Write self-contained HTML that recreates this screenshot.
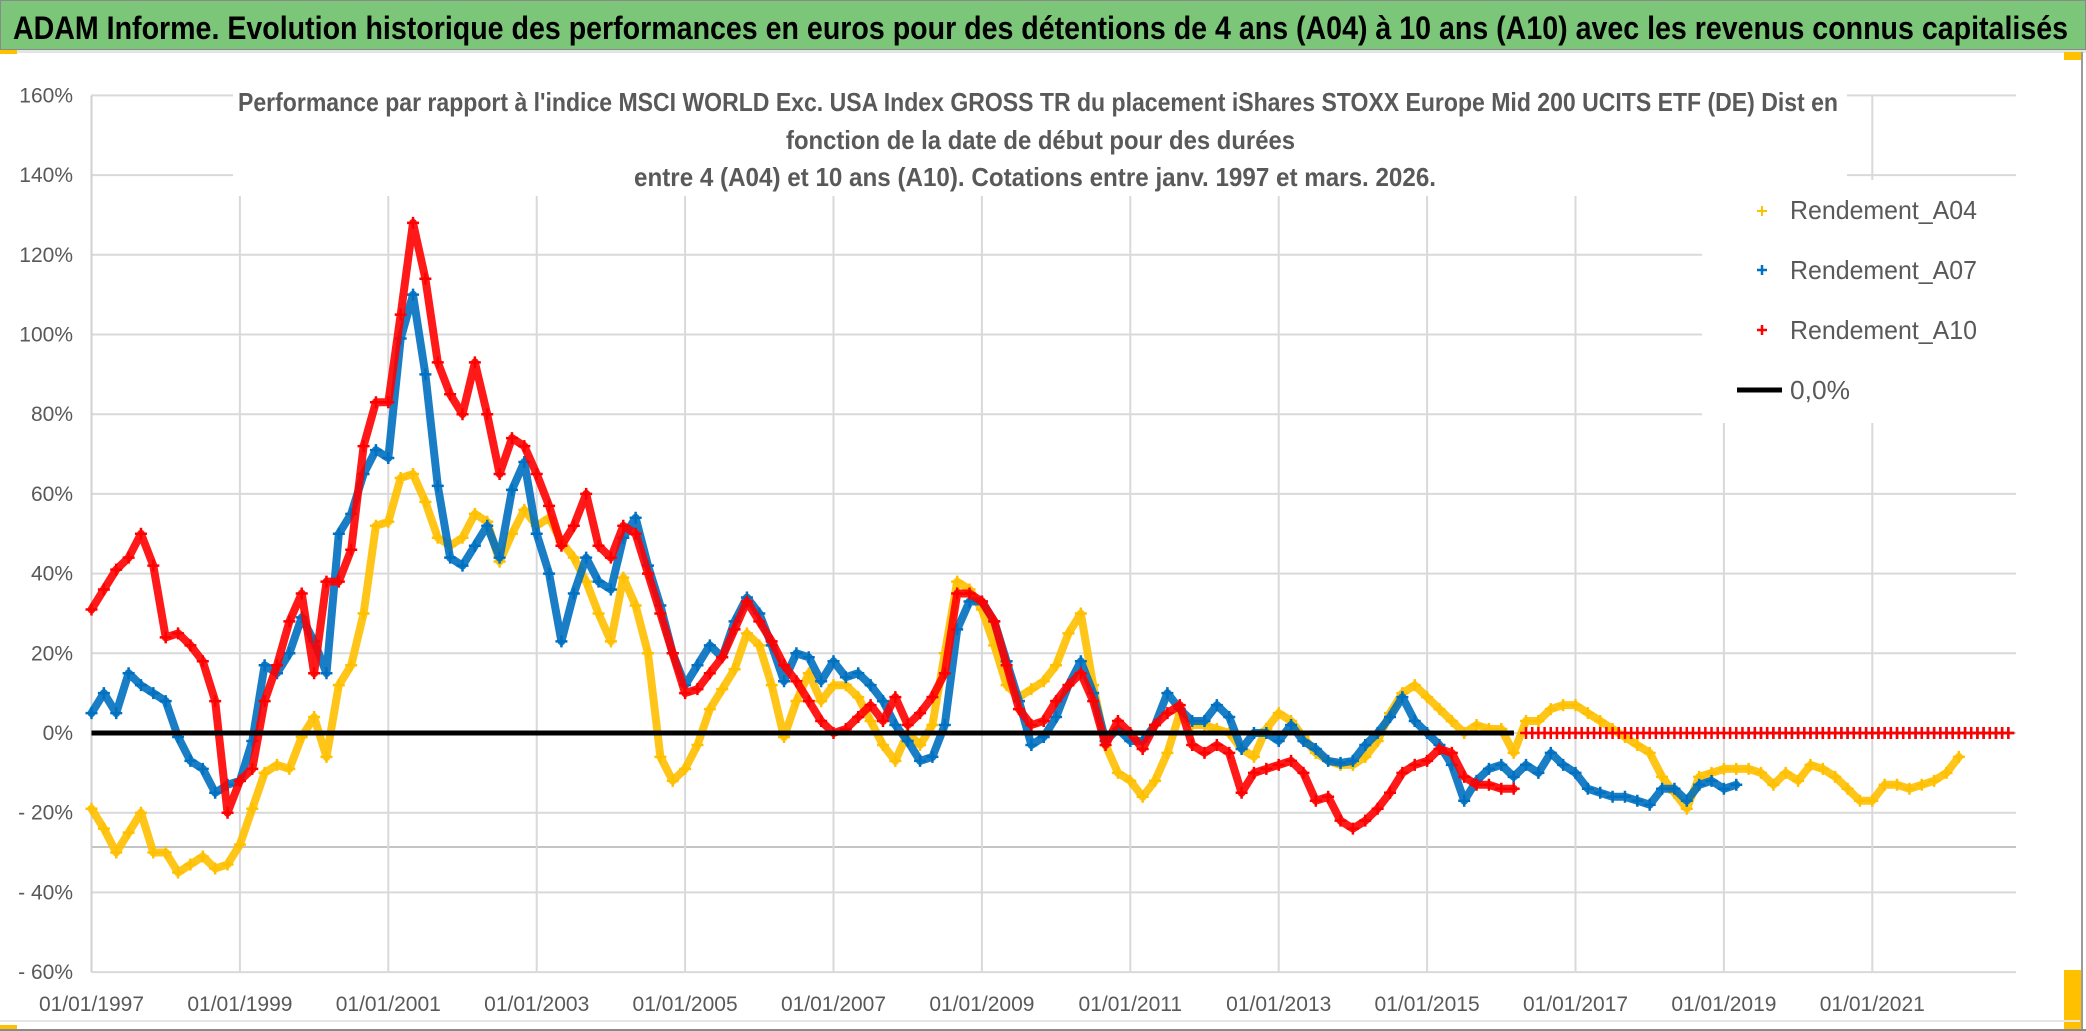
<!DOCTYPE html>
<html><head><meta charset="utf-8"><style>
html,body{margin:0;padding:0;background:#fff;}
svg{display:block;font-family:"Liberation Sans Narrow","Liberation Sans",sans-serif;}
</style></head><body>
<svg id="chart" width="2086" height="1031" viewBox="0 0 2086 1031" xmlns="http://www.w3.org/2000/svg">
<rect x="0" y="0" width="2086" height="1031" fill="#fff"/>
<rect x="0" y="0" width="2086" height="50" fill="#7cc67a" stroke="#8a8a8a" stroke-width="2"/>
<line x1="0" y1="51.5" x2="2086" y2="51.5" stroke="#e4e4e4" stroke-width="3"/>
<text x="13" y="39" font-size="32" font-weight="bold" fill="#000" textLength="2055" lengthAdjust="spacingAndGlyphs">ADAM Informe. Evolution historique des performances en euros pour des détentions de 4 ans (A04) à 10 ans (A10) avec les revenus connus capitalisés</text>
<rect x="0" y="50" width="17" height="4" fill="#ffc000"/>
<rect x="2064" y="52" width="18" height="8" fill="#ffc000"/>
<rect x="2064" y="970" width="18" height="61" fill="#ffc000"/>
<rect x="0" y="1025" width="17" height="6" fill="#ffc000"/>
<line x1="2082" y1="52" x2="2082" y2="1031" stroke="#9a9a9a" stroke-width="2"/>
<line x1="0" y1="1030" x2="2086" y2="1030" stroke="#8a8a8a" stroke-width="2"/>
<line x1="0" y1="1021" x2="2080" y2="1021" stroke="#e6e6e6" stroke-width="2"/>
<g id="grid"></g>
<g id="axes"></g>
<g id="series"></g>
<rect x="233" y="80" width="1614" height="116" fill="#fff"/>
<text x="238" y="111" font-size="26" font-weight="bold" fill="#595959" textLength="1600" lengthAdjust="spacingAndGlyphs">Performance par rapport à l'indice MSCI WORLD Exc. USA Index GROSS TR  du placement iShares STOXX Europe Mid 200 UCITS ETF (DE) Dist en</text>
<text x="786" y="149" font-size="26" font-weight="bold" fill="#595959" textLength="509" lengthAdjust="spacingAndGlyphs">fonction de la date de début pour des durées</text>
<text x="634" y="186" font-size="26" font-weight="bold" fill="#595959" textLength="802" lengthAdjust="spacingAndGlyphs">entre 4 (A04) et 10 ans (A10). Cotations entre janv. 1997 et mars. 2026.</text>
<g>
<rect x="1702" y="180" width="328" height="243" fill="#fff"/>
<g><path d="M1757 211H1767M1762 206V216" stroke="#ffc000" stroke-width="2"/><text x="1790" y="219" font-size="26" fill="#595959" textLength="187" lengthAdjust="spacingAndGlyphs">Rendement_A04</text></g>
<g><path d="M1757 270H1767M1762 265V275" stroke="#0070c0" stroke-width="2.5"/><text x="1790" y="279" font-size="26" fill="#595959" textLength="187" lengthAdjust="spacingAndGlyphs">Rendement_A07</text></g>
<g><path d="M1757 330H1767M1762 325V335" stroke="#ff0000" stroke-width="2.5"/><text x="1790" y="339" font-size="26" fill="#595959" textLength="187" lengthAdjust="spacingAndGlyphs">Rendement_A10</text></g>
<g><line x1="1737" y1="390" x2="1782" y2="390" stroke="#000" stroke-width="5"/><text x="1790" y="399" font-size="26" fill="#595959" textLength="60" lengthAdjust="spacingAndGlyphs">0,0%</text></g>
</g>
</svg>
<script>
const yTickValues = [160,140,120,100,80,60,40,20,0,-20,-40,-60];
const yTickLabels = ['160%','140%','120%','100%','80%','60%','40%','20%','0%','- 20%','- 40%','- 60%'];
const xTickYears = [1997,1999,2001,2003,2005,2007,2009,2011,2013,2015,2017,2019,2021];
const xTickLabels = ['01/01/1997','01/01/1999','01/01/2001','01/01/2003','01/01/2005','01/01/2007','01/01/2009','01/01/2011','01/01/2013','01/01/2015','01/01/2017','01/01/2019','01/01/2021'];
const startYear = 1997;
const stepYears = 1/6;
const endYear = 2022.9;
const zeroLineEnd = 2016.17;
const rendementA04 = [
-19,-24,-30,-25,-20,-30,
-30,-35,-33,-31,-34,-33,
-28,-19,-10,-8,-9,-1,
4,-6,12,17,30,52,
53,64,65,58,49,47,
49,55,53,43,50,56,
52,54,48,44,38,30,
23,39,32,20,-6,-12,
-9,-3,6,11,16,25,
22,12,-1,8,15,8,
12,12,9,3,-3,-7,
0,-3,2,20,38,36,
31,22,12,9,11,13,
17,25,30,12,-3,-10,
-12,-16,-12,-5,5,2,
2,1,0,-4,-6,1,
5,3,-1,-5,-7,-8,
-8,-6,-2,5,10,12,
9,6,3,0,2,1,
1,-5,3,3,6,7,
7,5,3,1,-1,-3,
-5,-11,-15,-19,-11,-10,
-9,-9,-9,-10,-13,-10,
-12,-8,-9,-11,-14,-17,
-17,-13,-13,-14,-13,-12,
-10,-6];
const rendementA07 = [
5,10,5,15,12,10,
8,-1,-7,-9,-15,-13,
-12,-2,17,15,20,29,
23,15,50,55,65,71,
69,99,110,90,62,44,
42,47,52,44,61,68,
50,40,23,35,44,38,
36,49,54,42,32,20,
12,17,22,19,28,34,
30,22,13,20,19,13,
18,14,15,12,8,2,
-2,-7,-6,2,26,33,
33,28,18,8,-3,-1,
4,12,18,10,-2,1,
-2,-2,2,10,6,3,
3,7,4,-4,0,0,
-2,2,-2,-4,-7,-7.5,
-7,-3,0,4,9,3,
0,-3,-8,-17,-12,-9,
-8,-11,-8,-10,-5,-8,
-10,-14,-15,-16,-16,-17,
-18,-14,-14,-17,-13,-12,
-14,-13];
const rendementA10 = [
31,36,41,44,50,42,
24,25,22,18,8,-20,
-12,-9,8,17,28,35,
15,38,38,46,72,83,
83,105,128,114,93,85,
80,93,80,65,74,72,
65,57,47,52,60,47,
44,52,50,40,30,20,
10,11,15,19,26,33,
28,23,17,13,8,3,
0,1,4,7,3,9,
2,5,9,15,35,35,
33,28,17,6,2,3,
8,12,15,8,-3,3,
0,-4,2,5,7,-3,
-5,-3,-5,-15,-10,-9,
-8,-7,-10,-17,-16,-22,
-24,-22,-19,-15,-10,-8,
-7,-4,-5,-11,-13,-13,
-14,-14];

const NS='http://www.w3.org/2000/svg';
const X0=91.5, PX_PER_YEAR=74.2, Y0=733, PX_PER_PCT=3.985;
function xScale(t){return X0+(t-startYear)*PX_PER_YEAR;}
function yScale(v){return Y0-v*PX_PER_PCT;}
const xRight=2016;
function mk(tag,attrs,parent){const e=document.createElementNS(NS,tag);for(const k in attrs)e.setAttribute(k,attrs[k]);parent.appendChild(e);return e;}

const grid=document.getElementById('grid');
const axes=document.getElementById('axes');
yTickValues.forEach((v,i)=>{
  const y=yScale(v);
  const gl=mk('line',{x1:X0,x2:xRight,y1:y,y2:y,stroke:'#d9d9d9','stroke-width':2},grid);
  
  
  const t=mk('text',{x:73,y:y+7,'text-anchor':'end','font-size':21,fill:'#595959'},axes);
  t.textContent=yTickLabels[i];
  
  
});
const extra=mk('line',{x1:X0,x2:xRight,y1:847,y2:847,stroke:'#c4c4c4','stroke-width':2},grid);


xTickYears.forEach((yr,i)=>{
  const x=xScale(yr);
  if(i>0){
    const gl=mk('line',{x1:x,x2:x,y1:yScale(160),y2:yScale(-60),stroke:'#d9d9d9','stroke-width':2},grid);
    
    
  }
  const t=mk('text',{x:x,y:1011,'text-anchor':'middle','font-size':21,fill:'#595959'},axes);
  t.textContent=xTickLabels[i];
  
  
});
const ax=mk('line',{x1:X0,x2:X0,y1:yScale(160),y2:yScale(-60),stroke:'#d0d0d0','stroke-width':2},axes);



const seriesG=document.getElementById('series');
function drawSeries(values,color,name){
  const g=mk('g',{},seriesG);
  
  
  const pts=[];
  values.forEach((v,i)=>{pts.push([xScale(startYear+i*stepYears),yScale(v)]);});
  const band=mk('polyline',{points:pts.map(p=>p[0].toFixed(1)+','+p[1].toFixed(1)).join(' '),fill:'none',stroke:color,'stroke-width':8,'stroke-linejoin':'round','stroke-linecap':'round',opacity:0.9},g);
  
  
  pts.forEach(p=>{
    const m=mk('path',{d:`M${p[0]-6} ${p[1]}H${p[0]+6}M${p[0]} ${p[1]-6}V${p[1]+6}`,stroke:color,'stroke-width':2.5},g);
    
    
  });
  const lastT=startYear+(values.length-1)*stepYears;
  for(let t=lastT+stepYears;t<=endYear+1e-6;t+=stepYears/2){
    const x=xScale(t),y=yScale(0);
    const m=mk('path',{d:`M${x-6} ${y}H${x+6}M${x} ${y-6}V${y+6}`,stroke:color,'stroke-width':2.5},g);
    
    
  }
}
const zl=mk('line',{x1:xScale(startYear),x2:xScale(zeroLineEnd),y1:yScale(0),y2:yScale(0),stroke:'#000','stroke-width':5},seriesG);


drawSeries(rendementA04,'#ffc000','series-a04');
drawSeries(rendementA07,'#0070c0','series-a07');
drawSeries(rendementA10,'#ff0000','series-a10');
seriesG.appendChild(zl);
</script>
</body></html>
